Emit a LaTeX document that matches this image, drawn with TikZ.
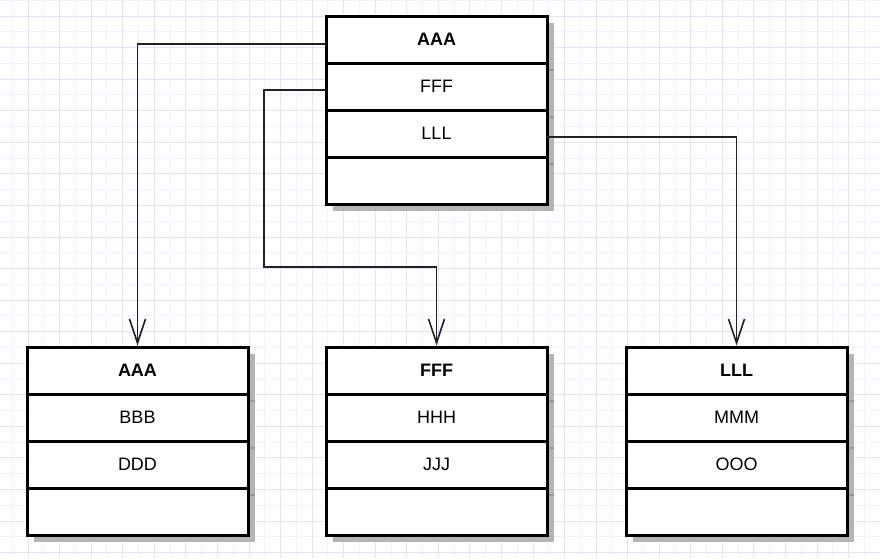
\documentclass[tikz,border=0pt]{standalone}
\usepackage{fontspec}
\setmainfont{Liberation Sans}
\usetikzlibrary{arrows.meta,shadows}
\definecolor{gridmaj}{RGB}{228,228,245}
\definecolor{gridmin}{RGB}{242,242,250}
\definecolor{shadowc}{RGB}{180,180,180}
\definecolor{tickc}{RGB}{150,150,150}
\definecolor{linec}{RGB}{34,34,34}
\newcommand\umlclass[6]{%
  \node[classbox] (#1) at (#2,#3+94) {};
  \node[rowcell] (#1-h) at (#2,#3+23.5) {\bfseries #4};
  \node[rowcell] (#1-a) at (#2,#3+70.5) {#5};
  \node[rowcell] (#1-b) at (#2,#3+117.5) {#6};
  \foreach \r in {h,a,b}{%
    \draw[divider] (#1-\r.south west) -- (#1-\r.south east);
    \draw[shadowtick] ([xshift=1.5pt,yshift=-6.5pt]#1-\r.south east) -- ++(5.5,0);
  }%
}
\begin{document}
\begin{tikzpicture}[x=1pt,y=-1pt,
  classbox/.style={draw=black, line width=3pt, fill=white, minimum width=221pt,
    minimum height=188pt, inner sep=0pt,
    drop shadow={shadow xshift=7pt, shadow yshift=-7pt, fill=shadowc, opacity=1}},
  rowcell/.style={minimum width=221pt, minimum height=47pt, inner sep=0pt,
    outer sep=0pt, font=\fontsize{18pt}{21pt}\selectfont},
  divider/.style={line width=3pt, draw=black},
  shadowtick/.style={line width=2pt, draw=tickc},
  conn/.style={draw=linec, line width=1.6pt, -{Straight Barb[length=24pt,width=16pt]}},
  gminor/.style={draw=gridmin, line width=1pt},
  gmajor/.style={draw=gridmaj, line width=1pt}]
\useasboundingbox (0,0) rectangle (880,558);
\fill[white] (0,0) rectangle (880,558);
% grid
\foreach \k in {0,...,55}{%
  \pgfmathsetmacro\gx{12.3+15.78*\k}%
  \ifodd\k\relax\else\draw[gminor] (\gx,0) -- (\gx,558);\fi}
\foreach \k in {0,...,35}{%
  \pgfmathsetmacro\gy{0.3+15.78*\k}%
  \ifodd\k\relax\else\draw[gminor] (0,\gy) -- (880,\gy);\fi}
\foreach \k in {0,...,55}{%
  \pgfmathsetmacro\gx{12.3+15.78*\k}%
  \ifodd\k\draw[gmajor] (\gx,0) -- (\gx,558);\fi}
\foreach \k in {0,...,35}{%
  \pgfmathsetmacro\gy{0.3+15.78*\k}%
  \ifodd\k\draw[gmajor] (0,\gy) -- (880,\gy);\fi}
% classes
\umlclass{T}{436.5}{16}{AAA}{FFF}{LLL}
\umlclass{BL}{137.5}{347}{AAA}{BBB}{DDD}
\umlclass{BM}{436.5}{347}{FFF}{HHH}{JJJ}
\umlclass{BR}{736.5}{347}{LLL}{MMM}{OOO}
% connectors
\coordinate (bendF) at (264,267);
\draw[conn] ([yshift=-4.5pt]T-h.west) -| (BL.north);
\draw[conn] ([yshift=-3.5pt]T-a.west) -| (bendF) -| (BM.north);
\draw[conn] ([yshift=-3.5pt]T-b.east) -| (BR.north);
\end{tikzpicture}
\end{document}
